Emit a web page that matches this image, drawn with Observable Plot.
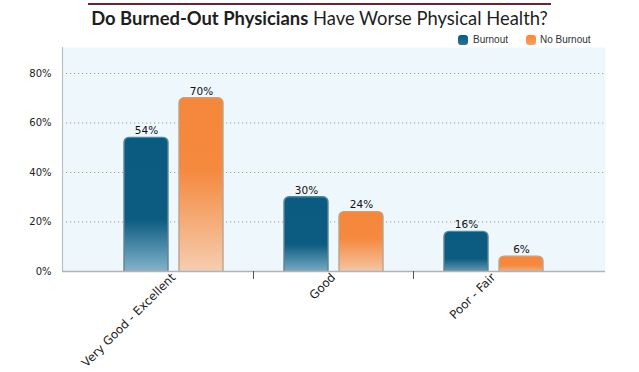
<!DOCTYPE html>
<html>
<head>
<meta charset="utf-8">
<script src="https://cdn.jsdelivr.net/npm/d3@7"></script>
<script src="https://cdn.jsdelivr.net/npm/@observablehq/plot@0.6"></script>
<style>
  html, body { margin: 0; padding: 0; background: #fff; }
  #wrap { width: 639px; }
  #header { position: relative; width: 639px; height: 46px; font-family: Lato, "Liberation Sans", sans-serif; }
  #rule { position: absolute; left: 88px; top: 3px; width: 463px; height: 2px; background: #6d2233; }
  #title { position: absolute; left: 0; top: 8px; width: 639px; text-align: center; font-size: 18.4px; line-height: 20px; color: #1e1e1e; }
  #title b { font-weight: 700; }
  .lg-sw { position: absolute; top: 35px; width: 10px; height: 10px; border-radius: 3px; }
  .lg-tx { position: absolute; top: 34px; font-family: "Liberation Sans", Arial, sans-serif; font-size: 10px; line-height: 12px; color: #333; }
  svg { display: block; }
</style>
</head>
<body>
<div id="wrap">
  <div id="header">
    <div id="rule"></div>
    <div id="title"><b>Do Burned-Out Physicians</b> Have Worse Physical Health?</div>
    <div class="lg-sw" id="sw0" style="left:458px;"></div>
    <div class="lg-tx" id="tx0" style="left:473px;"></div>
    <div class="lg-sw" id="sw1" style="left:526px;"></div>
    <div class="lg-tx" id="tx1" style="left:540px;"></div>
  </div>
  <div id="chart"></div>
</div>
<script>
const categories = ["Very Good - Excellent", "Good", "Poor - Fair"];
const seriesNames = ["Burnout", "No Burnout"];
const burnout = [54, 30, 16];
const noBurnout = [70, 24, 6];
const yTicks = [0, 20, 40, 60, 80];

const rowsB = categories.map((c, i) => ({cat: c, series: seriesNames[0], value: burnout[i]}));
const rowsN = categories.map((c, i) => ({cat: c, series: seriesNames[1], value: noBurnout[i]}));

document.getElementById("sw0").style.background = "linear-gradient(#0b5a80, #2a7396)";
document.getElementById("sw1").style.background = "linear-gradient(#f5873b, #f7a064)";
document.getElementById("tx0").textContent = seriesNames[0];
document.getElementById("tx1").textContent = seriesNames[1];

const pct = d => d + "%";

const chart = Plot.plot({
  width: 639,
  height: 326,
  marginLeft: 62,
  marginRight: 34,
  marginTop: 1,
  marginBottom: 101,
  style: {fontFamily: "'DejaVu Sans', sans-serif", fontSize: "10px", color: "#222", background: "transparent", overflow: "visible"},
  x: {domain: categories, range: [93, 573], padding: 0, label: null},
  y: {domain: [0, 90.5], label: null},
  marks: [
    Plot.frame({fill: "#eef7fc", stroke: "none"}),
    Plot.ruleY(yTicks.slice(1), {stroke: "#9aa4aa", strokeDasharray: "1.2,2.8", strokeWidth: 1}),
    Plot.barY(rowsB, {x: "cat", y1: -3, y2: "value", insetLeft: 31, insetRight: 85, rx: 5,
      fill: "url(#gradB)", stroke: "#5f8396", strokeWidth: 1.4, clip: true}),
    Plot.barY(rowsN, {x: "cat", y1: -3, y2: "value", insetLeft: 86, insetRight: 30, rx: 5,
      fill: "url(#gradN)", stroke: "#b9a391", strokeWidth: 1.4, clip: true}),
    Plot.text(rowsB, {x: "cat", y: "value", text: d => pct(d.value), dx: -27, dy: -7, fontSize: 10.5, fill: "#111"}),
    Plot.text(rowsN, {x: "cat", y: "value", text: d => pct(d.value), dx: 28, dy: -7, fontSize: 10.5, fill: "#111"}),
    Plot.ruleX([categories[0]], {x: d => d, dx: -111, stroke: "#b8c0c5", strokeWidth: 1.2}),
    Plot.ruleY([0], {stroke: "#b0b4b6", strokeWidth: 1.6}),
    Plot.ruleX(categories.slice(0, 2), {x: d => d, dx: 80, y1: 0, y2: 0, insetBottom: -8, stroke: "#555", strokeWidth: 1}),
    Plot.axisY({ticks: yTicks, tickFormat: pct, tickSize: 0, tickPadding: 11, fontSize: 10, fill: "#222", label: null}),
    Plot.axisX({tickSize: 0, tickPadding: 4, tickRotate: -45, fontSize: 11.8, fill: "#222", label: null})
  ]
});

const defs = d3.select(chart).insert("defs", ":first-child");
const gB = defs.append("linearGradient").attr("id", "gradB").attr("x1", 0).attr("y1", 0).attr("x2", 0).attr("y2", 1);
gB.append("stop").attr("offset", "0").attr("stop-color", "#0b5a80");
gB.append("stop").attr("offset", "0.58").attr("stop-color", "#0c5b81");
gB.append("stop").attr("offset", "1").attr("stop-color", "#93bfd4");
const gN = defs.append("linearGradient").attr("id", "gradN").attr("x1", 0).attr("y1", 0).attr("x2", 0).attr("y2", 1);
gN.append("stop").attr("offset", "0").attr("stop-color", "#f5873b");
gN.append("stop").attr("offset", "0.40").attr("stop-color", "#f5893e");
gN.append("stop").attr("offset", "1").attr("stop-color", "#f6d2b8");

document.getElementById("chart").appendChild(chart);
</script>
</body>
</html>
